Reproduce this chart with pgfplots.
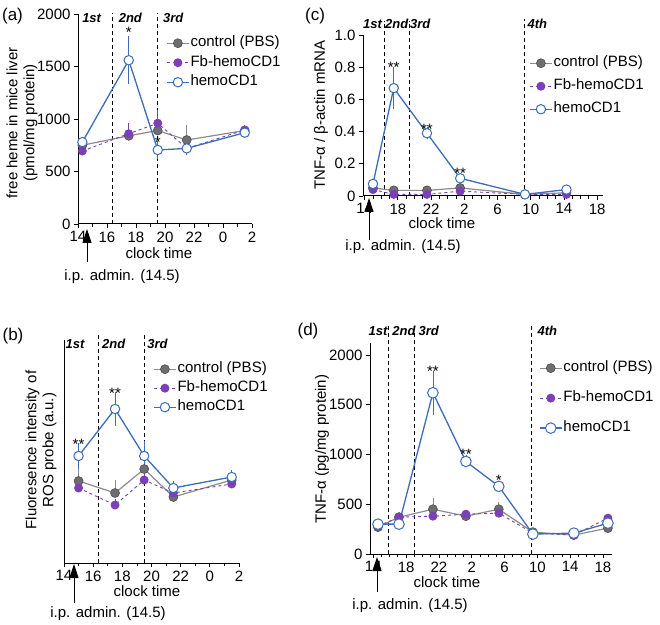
\documentclass[border=0pt]{standalone}
\usepackage{fontspec}
\setmainfont{Liberation Sans}
\usepackage{pgfplots}
\pgfplotsset{compat=1.18}
\usetikzlibrary{arrows.meta}
\definecolor{ctrlline}{HTML}{8C8C8C}
\definecolor{ctrlfill}{HTML}{6E6E70}
\definecolor{fbcol}{HTML}{7B3FB8}
\definecolor{hemocol}{HTML}{3C6DB8}
\tikzset{
 vdash/.style={black, line width=1pt, dash pattern=on 4pt off 3pt},
 tag/.style={font=\fontsize{13}{15}\selectfont\bfseries\itshape, anchor=west, inner sep=0pt},
 star/.style={font=\fontsize{15}{17}\selectfont, inner sep=0pt},
}
\pgfplotsset{
 panel/.style={
   scale only axis,
   axis x line*=bottom, axis y line*=left,
   axis line style={line width=1pt, -},
   tick align=outside,
   major tick length=4pt, minor tick length=3pt,
   tick style={black, line width=0.8pt},
   every tick label/.append style={font=\fontsize{15}{17}\selectfont},
   /pgf/number format/assume math mode=true,
   /pgf/number format/1000 sep={},
   clip=false,
   legend cell align=left,
   legend style={draw=none, fill=none, font=\fontsize{15}{17}\selectfont, inner sep=0pt,
     nodes={inner sep=1pt, text height=11pt, text depth=3.5pt}, anchor=north west},
   legend image code/.code={\draw[mark repeat=2,mark phase=2] plot coordinates {(0pt,0pt)(11pt,0pt)(22pt,0pt)};},
   error bars/error bar style={line width=0.8pt, solid},
   error bars/error mark options={mark size=3pt, line width=0.8pt, solid},
 },
 ctrl/.style={color=ctrlline, line width=1.2pt, mark=*, mark size=4.5pt,
   mark options={solid, fill=ctrlfill, draw=ctrlfill!70!black, line width=0.6pt},
   error bars/y dir=plus, error bars/y explicit},
 fb/.style={color=fbcol, dashed, line width=0.9pt, mark=*, mark size=4pt,
   mark options={solid, fill=fbcol, draw=fbcol},
   error bars/y dir=plus, error bars/y explicit},
 hemo/.style={color=hemocol, line width=1.3pt, mark=*, mark size=4.7pt,
   mark options={solid, fill=white, draw=hemocol, line width=1pt},
   error bars/y dir=both, error bars/y explicit},
}
\begin{document}
\begin{tikzpicture}
\path[use as bounding box] (0,0) rectangle (660pt,624pt);
\def\txt{\fontsize{15}{17}\selectfont}
% ---------------- (a)
\begin{axis}[panel, at={(78pt,400pt)}, anchor=south west, width=174pt, height=210pt,
  xmin=14, xmax=26, ymin=0, ymax=2000,
  xtick={14,16,...,26}, xticklabels={14,16,18,20,22,0,2}, minor x tick num=1,
  ytick={0,500,1000,1500,2000},
  legend style={at={(0.506,0.901)}, row sep=3pt}]
\draw[vdash] (axis cs:16.4,0) -- (axis cs:16.4,2010);
\draw[vdash] (axis cs:19.45,0) -- (axis cs:19.45,2010);
\addplot[ctrl] coordinates {(14.3,750) +- (0,40) (17.5,840) +- (0,40) (19.5,890) +- (0,40) (21.5,800) +- (0,110) (25.5,890) +- (0,20)};
\addlegendentry{control (PBS)}
\addplot[fb] coordinates {(14.3,695) +- (0,20) (17.5,860) +- (0,70) (19.5,960) +- (0,100) (21.5,720) +- (0,40) (25.5,895) +- (0,15)};
\addlegendentry{Fb-hemoCD1}
\addplot[hemo] coordinates {(14.3,780) +- (0,20) (17.5,1560) +- (0,200) (19.5,705) +- (0,60) (21.5,720) +- (0,30) (25.5,870) +- (0,20)};
\addlegendentry{hemoCD1}
\node[tag] at (axis cs:14.28,1962) {1st};
\node[tag] at (axis cs:16.8,1962) {2nd};
\node[tag] at (axis cs:19.86,1962) {3rd};
\node[star] at (axis cs:17.5,1825) {*};
\node[star] at (axis cs:19.5,775) {*};
\end{axis}
% ---------------- (b)
\begin{axis}[panel, at={(64pt,61pt)}, anchor=south west, width=175pt, height=223pt,
  xmin=14, xmax=26, ymin=0, ymax=223,
  xtick={14,16,...,26}, xticklabels={14,16,18,20,22,0,2}, minor x tick num=1,
  ytick=\empty,
  legend style={at={(0.509,0.907)}, row sep=2.5pt}]
\draw[vdash] (axis cs:16.35,0) -- (axis cs:16.35,230);
\draw[vdash] (axis cs:19.5,0) -- (axis cs:19.5,230);
\addplot[ctrl] coordinates {(15,82) +- (0,9) (17.5,70) +- (0,10) (19.5,94) +- (0,7) (21.5,66) +- (0,3) (25.5,83) +- (0,3)};
\addlegendentry{control (PBS)}
\addplot[fb] coordinates {(15,75) +- (0,3) (17.5,58) +- (0,3) (19.5,83) +- (0,3) (21.5,70) +- (0,3) (25.5,79) +- (0,3)};
\addlegendentry{Fb-hemoCD1}
\addplot[hemo] coordinates {(15,107) +- (0,10) (17.5,154) +- (0,14) (19.5,107) +- (0,12) (21.5,75) +- (0,4) (25.5,86) +- (0,4)};
\addlegendentry{hemoCD1}
\node[tag] at (axis cs:14.1,219) {1st};
\node[tag] at (axis cs:16.6,219) {2nd};
\node[tag] at (axis cs:19.7,219) {3rd};
\node[star] at (axis cs:15,119) {**};
\node[star] at (axis cs:17.5,170) {**};
\end{axis}
% ---------------- (c)
\begin{axis}[panel, at={(363pt,428pt)}, anchor=south west, width=240pt, height=161pt,
  xmin=13.8, xmax=42.7, ymin=0, ymax=1,
  xtick={14,18,...,42}, xticklabels={14,18,22,2,6,10,14,18}, minor x tick num=3,
  ytick={0,0.2,0.4,0.6,0.8,1}, yticklabels={0,0.2,0.4,0.6,0.8,1.0},
  legend style={at={(0.692,0.877)}, row sep=6.5pt}]
\draw[vdash] (axis cs:16.35,0) -- (axis cs:16.35,1.09);
\draw[vdash] (axis cs:19.35,0) -- (axis cs:19.35,1.09);
\draw[vdash] (axis cs:33.2,0) -- (axis cs:33.2,1.1);
\addplot[ctrl] coordinates {(15,0.05) +- (0,0.005) (17.5,0.035) +- (0,0.005) (21.5,0.035) +- (0,0.005) (25.5,0.05) +- (0,0.005) (33.3,0.01) +- (0,0.003) (38.3,0.02) +- (0,0.003)};
\addlegendentry{control (PBS)}
\addplot[fb] coordinates {(15,0.04) +- (0,0.005) (17.5,0.01) +- (0,0.003) (21.5,0.01) +- (0,0.003) (25.5,0.03) +- (0,0.005) (33.3,0.01) +- (0,0.003) (38.3,0.01) +- (0,0.003)};
\addlegendentry{Fb-hemoCD1}
\addplot[hemo] coordinates {(15,0.075) +- (0,0.01) (17.5,0.67) +- (0,0.11) (21.5,0.39) +- (0,0.02) (25.5,0.11) +- (0,0.01) (33.3,0.01) +- (0,0.003) (38.3,0.04) +- (0,0.005)};
\addlegendentry{hemoCD1}
\node[tag] at (axis cs:13.8,1.068) {1st};
\node[tag] at (axis cs:16.45,1.068) {2nd};
\node[tag] at (axis cs:19.45,1.068) {3rd};
\node[tag] at (axis cs:33.6,1.068) {4th};
\node[star] at (axis cs:17.5,0.8) {**};
\node[star] at (axis cs:21.5,0.415) {**};
\node[star] at (axis cs:25.5,0.14) {**};
\end{axis}
% ---------------- (d)
\begin{axis}[panel, at={(370pt,70pt)}, anchor=south west, width=242pt, height=211pt,
  xmin=13.6, xmax=43.1, ymin=0, ymax=2120,
  xtick={14,18,...,42}, xticklabels={14,18,22,2,6,10,14,18}, minor x tick num=3,
  ytick={0,500,1000,1500,2000},
  legend style={at={(0.698,0.921)}, row sep=13.5pt}]
\draw[vdash] (axis cs:15.8,0) -- (axis cs:15.8,2320);
\draw[vdash] (axis cs:19.0,0) -- (axis cs:19.0,2320);
\draw[vdash] (axis cs:33.3,0) -- (axis cs:33.3,2320);
\addplot[ctrl] coordinates {(14.57,270) +- (0,15) (17.13,370) +- (0,20) (21.27,450) +- (0,80) (25.29,380) +- (0,20) (29.3,450) +- (0,40) (33.45,220) +- (0,15) (38.45,190) +- (0,10) (42.6,260) +- (0,15)};
\addlegendentry{control (PBS)}
\addplot[fb] coordinates {(14.57,280) +- (0,10) (17.13,370) +- (0,15) (21.27,380) +- (0,15) (25.29,400) +- (0,15) (29.3,410) +- (0,15) (33.45,210) +- (0,10) (38.45,190) +- (0,10) (42.6,360) +- (0,15)};
\addlegendentry{Fb-hemoCD1}
\addplot[hemo, mark size=5.3pt] coordinates {(14.57,300) +- (0,15) (17.13,300) +- (0,15) (21.27,1620) +- (0,190) (25.29,930) +- (0,30) (29.3,680) +- (0,20) (33.45,200) +- (0,10) (38.45,210) +- (0,10) (42.6,310) +- (0,15)};
\addlegendentry{hemoCD1}
\node[tag] at (axis cs:13.4,2241) {1st};
\node[tag] at (axis cs:16.3,2241) {2nd};
\node[tag] at (axis cs:19.5,2241) {3rd};
\node[tag] at (axis cs:34.0,2241) {4th};
\node[star] at (axis cs:21.27,1840) {**};
\node[star] at (axis cs:25.29,1005) {**};
\node[star] at (axis cs:29.3,745) {*};
\end{axis}
% ---------------- annotations
\node[font=\fontsize{17}{19}\selectfont] at (12.5pt,608pt) {(a)};
\node[font=\fontsize{17}{19}\selectfont] at (315pt,608pt) {(c)};
\node[font=\fontsize{17}{19}\selectfont] at (13pt,288pt) {(b)};
\node[font=\fontsize{17}{19}\selectfont] at (308pt,293pt) {(d)};
\node[rotate=90, align=center, font=\txt, inner sep=0pt] at (22pt,501pt) {free heme in mice liver\\(pmol/mg protein)};
\node[rotate=90, align=center, font=\txt, inner sep=0pt] at (41pt,174pt) {Fluoresence intensity of\\ROS probe (a.u.)};
\node[rotate=90, font=\txt, inner sep=0pt] at (321pt,509pt) {TNF-α / β-actin mRNA};
\node[rotate=90, font=\txt, inner sep=0pt] at (322pt,175pt) {TNF-α (pg/mg protein)};
\node[font=\txt] at (159pt,371pt) {clock time};
\node[font=\txt] at (147pt,33pt) {clock time};
\node[font=\txt] at (442pt,401pt) {clock time};
\node[font=\txt] at (447pt,42pt) {clock time};
\draw[line width=0.9pt, -{Triangle[length=14pt,width=9pt]}] (87pt,362pt) -- (87pt,395pt);
\draw[line width=0.9pt, -{Triangle[length=14pt,width=9pt]}] (74pt,21pt) -- (74pt,60pt);
\draw[line width=0.9pt, -{Triangle[length=14pt,width=9pt]}] (369pt,384pt) -- (369pt,426pt);
\draw[line width=0.9pt, -{Triangle[length=14pt,width=9pt]}] (377pt,32pt) -- (377pt,67pt);
\node[font=\txt] at (122pt,347pt) {i.p. admin. (14.5)};
\node[font=\txt] at (108pt,10pt) {i.p. admin. (14.5)};
\node[font=\txt] at (403pt,377pt) {i.p. admin. (14.5)};
\node[font=\txt] at (410pt,18pt) {i.p. admin. (14.5)};
\end{tikzpicture}
\end{document}
